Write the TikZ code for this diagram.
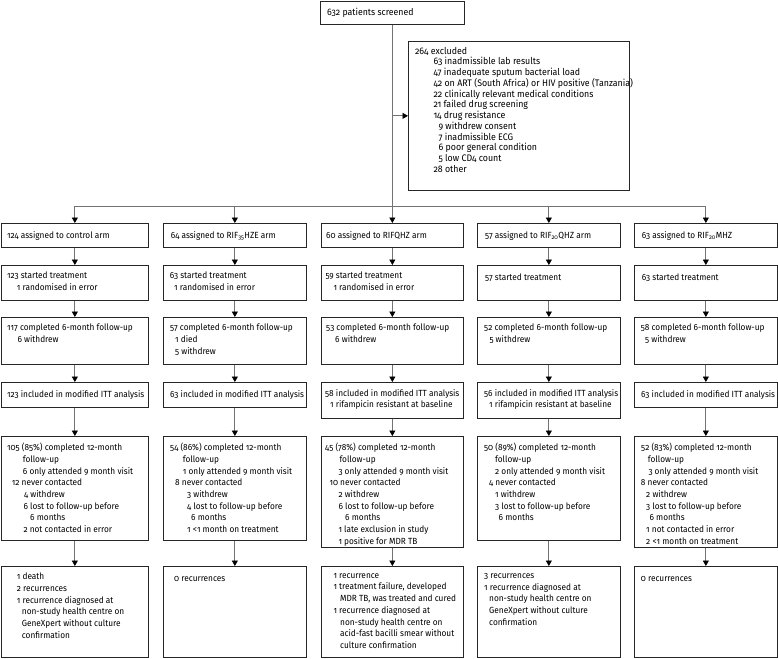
\documentclass[tikz,border=0pt]{standalone}
\usepackage{fontspec}
\setmainfont{Fira Sans}[Numbers=OldStyle, FakeStretch=0.93]
\usetikzlibrary{arrows.meta}
\newcommand\ind[1]{\hspace*{#1pt}}

\begin{document}
\begin{tikzpicture}[x=1pt,y=-1pt,
  flowbox/.style={draw=black!85, line width=0.7pt, anchor=north west, inner sep=0pt},
  boxtext/.style={anchor=north west, inner sep=0pt, align=left, yshift=-7pt,
    font=\fontsize{8.9}{11.7}\selectfont, execute at begin node=\rule{0pt}{8pt}},
  link/.style={draw=black!55, line width=0.8pt},
  arr/.style={link, -{Triangle[length=5.5pt,width=6pt,color=black]}}]
\useasboundingbox (0,0) rectangle (778,658);

\node[flowbox, minimum width=144pt, minimum height=23pt] (screen) at (320,1) {};
\node[boxtext, yshift=1pt, font=\fontsize{9.4}{11.7}\selectfont] (tscreen) at (screen.north west) {\ind{7}632 patients screened};

\node[flowbox, minimum width=221pt, minimum height=149pt] (excl) at (408,41) {};
\node[boxtext, yshift=1.3pt, font=\fontsize{9.5}{10.75}\selectfont] (texcl) at (excl.north west) {%
\ind{7}264 excluded\\
\ind{25.3}63 inadmissible lab results\\
\ind{25.3}47 inadequate sputum bacterial load\\
\ind{25.3}42 on ART (South Africa) or HIV positive (Tanzania)\\
\ind{25.3}22 clinically relevant medical conditions\\
\ind{25.3}21 failed drug screening\\
\ind{25.3}14 drug resistance\\
\ind{30.3}9 withdrew consent\\
\ind{30.3}7 inadmissible ECG\\
\ind{30.3}6 poor general condition\\
\ind{30.3}5 low CD4 count\\
\ind{25.3}28 other};

\foreach \c/\x/\w/\ha/\hb in {1/1/147/25/104,2/163/143/25/104,3/321/142/36/111,4/477/143/36/104,5/634/143/25/111}
  \foreach \r/\y/\h in {1/223/24,2/265/35,3/317/47,4/382/\ha,5/436/\hb,6/566/91}
    \node[flowbox, minimum width=\w pt, minimum height=\h pt] (b\c-\r) at (\x,\y) {};

% assigned
\node[boxtext] (t1-1) at (b1-1.north west) {\ind{6}124 assigned to control arm};
\node[boxtext] (t2-1) at (b2-1.north west) {\ind{7.7}64 assigned to RIF\textsubscript{35}HZE arm};
\node[boxtext] (t3-1) at (b3-1.north west) {\ind{5}60 assigned to RIFQHZ arm};
\node[boxtext] (t4-1) at (b4-1.north west) {\ind{8}57 assigned to RIF\textsubscript{20}QHZ arm};
\node[boxtext] (t5-1) at (b5-1.north west) {\ind{7.7}63 assigned to RIF\textsubscript{20}MHZ};

% started treatment
\node[boxtext] (t1-2) at (b1-2.north west) {\ind{6}123 started treatment\\\ind{15.7}1 randomised in error};
\node[boxtext] (t2-2) at (b2-2.north west) {\ind{6.7}63 started treatment\\\ind{11}1 randomised in error};
\node[boxtext] (t3-2) at (b3-2.north west) {\ind{4.3}59 started treatment\\\ind{12.3}1 randomised in error};
\node[boxtext] (t4-2) at (b4-2.north west) {\ind{8}57 started treatment};
\node[boxtext] (t5-2) at (b5-2.north west) {\ind{7.7}63 started treatment};

% 6-month follow-up
\node[boxtext] (t1-3) at (b1-3.north west) {\ind{6}117 completed 6-month follow-up\\\ind{16.3}6 withdrew};
\node[boxtext] (t2-3) at (b2-3.north west) {\ind{7}57 completed 6-month follow-up\\\ind{12}1 died\\\ind{12}5 withdrew};
\node[boxtext] (t3-3) at (b3-3.north west) {\ind{5}53 completed 6-month follow-up\\\ind{14}6 withdrew};
\node[boxtext] (t4-3) at (b4-3.north west) {\ind{7}52 completed 6-month follow-up\\\ind{12.3}5 withdrew};
\node[boxtext] (t5-3) at (b5-3.north west) {\ind{6.7}58 completed 6-month follow-up\\\ind{11}5 withdrew};

% modified ITT
\node[boxtext] (t1-4) at (b1-4.north west) {\ind{6}123 included in modified ITT analysis};
\node[boxtext] (t2-4) at (b2-4.north west) {\ind{7}63 included in modified ITT analysis};
\node[boxtext] (t3-4) at (b3-4.north west) {\ind{4}58 included in modified ITT analysis\\\ind{9}1 rifampicin resistant at baseline};
\node[boxtext] (t4-4) at (b4-4.north west) {\ind{7}56 included in modified ITT analysis\\\ind{12}1 rifampicin resistant at baseline};
\node[boxtext] (t5-4) at (b5-4.north west) {\ind{7}63 included in modified ITT analysis};

% 12-month follow-up
\node[boxtext] (t1-5) at (b1-5.north west) {\ind{6}105 (85\%) completed 12-month\\\ind{21.7}follow-up\\
  \ind{21.7}6 only attended 9 month visit\\\ind{10.7}12 never contacted\\\ind{23}4 withdrew\\
  \ind{22.3}6 lost to follow-up before\\\ind{29}6 months\\\ind{22.3}2 not contacted in error};
\node[boxtext] (t2-5) at (b2-5.north west) {\ind{7}54 (86\%) completed 12-month\\\ind{19.7}follow-up\\
  \ind{19.7}1 only attended 9 month visit\\\ind{12}8 never contacted\\\ind{24}3 withdrew\\
  \ind{24}4 lost to follow-up before\\\ind{28}6 months\\\ind{24}1 <1 month on treatment};
\node[boxtext] (t3-5) at (b3-5.north west) {\ind{4}45 (78\%) completed 12-month\\\ind{18.3}follow-up\\
  \ind{17.3}3 only attended 9 month visit\\\ind{8.3}10 never contacted\\\ind{17.3}2 withdrew\\
  \ind{17.3}6 lost to follow-up before\\\ind{24}6 months\\\ind{17.3}1 late exclusion in study\\
  \ind{17.3}1 positive for MDR TB};
\node[boxtext] (t4-5) at (b4-5.north west) {\ind{7}50 (89\%) completed 12-month\\\ind{18}follow-up\\
  \ind{18}2 only attended 9 month visit\\\ind{12}4 never contacted\\\ind{18}1 withdrew\\
  \ind{18}3 lost to follow-up before\\\ind{21.5}6 months};
\node[boxtext] (t5-5) at (b5-5.north west) {\ind{7}52 (83\%) completed 12-month\\\ind{13.7}follow-up\\
  \ind{14.3}3 only attended 9 month visit\\\ind{6.7}8 never contacted\\\ind{12}2 withdrew\\
  \ind{12}3 lost to follow-up before\\\ind{15.3}6 months\\\ind{12}1 not contacted in error\\
  \ind{12}2 <1 month on treatment};

% recurrences
\node[boxtext] (t1-6) at (b1-6.north west) {\ind{15.7}1 death\\\ind{15.7}2 recurrences\\
  \ind{15.7}1 recurrence diagnosed at\\\ind{20.7}non-study health centre on\\
  \ind{20.7}GeneXpert without culture\\\ind{20.7}confirmation};
\node[boxtext] (t2-6) at (b2-6.north west) {\ind{11}0 recurrences};
\node[boxtext] (t3-6) at (b3-6.north west) {\ind{12.3}1 recurrence\\\ind{12.3}1 treatment failure, developed\\
  \ind{19}MDR TB, was treated and cured\\\ind{12.3}1 recurrence diagnosed at\\
  \ind{19}non-study health centre on\\\ind{19}acid-fast bacilli smear without\\\ind{19}culture confirmation};
\node[boxtext] (t4-6) at (b4-6.north west) {\ind{7}3 recurrences\\\ind{7}1 recurrence diagnosed at\\
  \ind{12}non-study health centre on\\\ind{12}GeneXpert without culture\\\ind{12}confirmation};
\node[boxtext] (t5-6) at (b5-6.north west) {\ind{6.7}0 recurrences};

\coordinate (rowline) at (0,206);
\coordinate (split) at (screen.south |- rowline);
\draw[link] (screen.south) -- (split);
\draw[arr] (screen.south |- excl.west) -- (excl.west);
\draw[link] (b1-1.north |- split) -- (b5-1.north |- split);
\foreach \c in {1,...,5}
  \draw[arr] (b\c-1.north |- split) -- (b\c-1.north);
\foreach \c in {1,...,5}
  \foreach \r/\s in {1/2,2/3,3/4,4/5,5/6}
    \draw[arr] (b\c-\r.south) -- (b\c-\s.north);
\end{tikzpicture}
\end{document}
